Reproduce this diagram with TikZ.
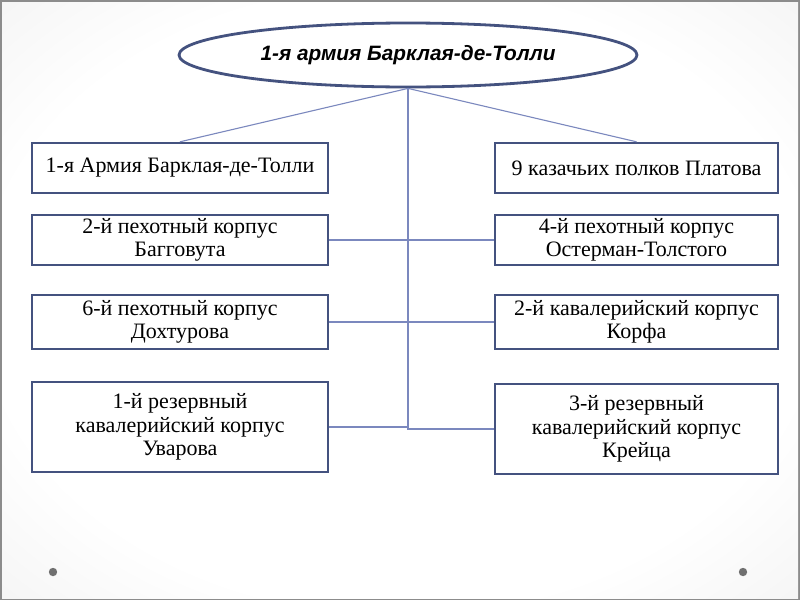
\documentclass[tikz,border=0pt]{standalone}
\usepackage{fontspec}
\setmainfont{Liberation Serif}
\newfontfamily\titlefont{Liberation Sans}
\usetikzlibrary{shapes.geometric}
\definecolor{boxline}{HTML}{44527F}
\definecolor{conn}{HTML}{7B88BE}
\definecolor{edgegray}{HTML}{8C8C8C}
\definecolor{dotgray}{HTML}{707070}
\pgfdeclareradialshading{bgshade}{\pgfpoint{0bp}{0bp}}{color(0bp)=(white); color(26bp)=(white); color(72bp)=(black!18)}
\tikzset{
  unitbox/.style={draw=boxline, line width=2.4pt, fill=white, rectangle, inner sep=0pt, align=center,
    font=\fontsize{22}{23.5}\selectfont},
  lbox/.style={unitbox, minimum width=296pt},
  rbox/.style={unitbox, minimum width=283pt},
  connline/.style={draw=conn, line width=1.1pt},
  topell/.style={ellipse, draw=boxline, line width=2.8pt, fill=white, minimum width=458pt, minimum height=64pt, inner sep=0pt,
    font=\titlefont\bfseries\itshape\fontsize{20.8}{24}\selectfont}
}
\begin{document}
\begin{tikzpicture}[x=1pt,y=-1pt]
\useasboundingbox (0,0) rectangle (800,600);
\fill[edgegray] (0,0) rectangle (800,600);
\shade[shading=bgshade] (2,2) rectangle (798,598);
\fill[dotgray] (53,572) circle (4.2);
\fill[dotgray] (743,572) circle (4.2);

\node[topell] (top) at (408,55) {1-я армия Барклая-де-Толли};

\node[lbox, minimum height=50pt] (L1) at (180,168) {1-я Армия Барклая-де-Толли};
\node[lbox, minimum height=50pt] (L2) at (180,240) {2-й пехотный корпус\\Багговута};
\node[lbox, minimum height=54pt] (L3) at (180,322) {6-й пехотный корпус\\Дохтурова};
\node[lbox, minimum height=90pt] (L4) at (180,427) {1-й резервный\\кавалерийский корпус\\Уварова};

\node[rbox, minimum height=50pt] (R1) at (636.5,168) {9 казачьих полков Платова};
\node[rbox, minimum height=50pt] (R2) at (636.5,240) {4-й пехотный корпус\\Остерман-Толстого};
\node[rbox, minimum height=54pt] (R3) at (636.5,322) {2-й кавалерийский корпус\\Корфа};
\node[rbox, minimum height=90pt] (R4) at (636.5,429) {3-й резервный\\кавалерийский корпус\\Крейца};

\draw[connline] (top.south) -- (L1.north);
\draw[connline] (top.south) -- (R1.north);
\draw[connline] (top.south) |- (R4.west);
\draw[connline] (L4.east) -- (L4.east -| top.south);
\draw[connline] (L2.east) -- (R2.west);
\draw[connline] (L3.east) -- (R3.west);
\end{tikzpicture}
\end{document}
